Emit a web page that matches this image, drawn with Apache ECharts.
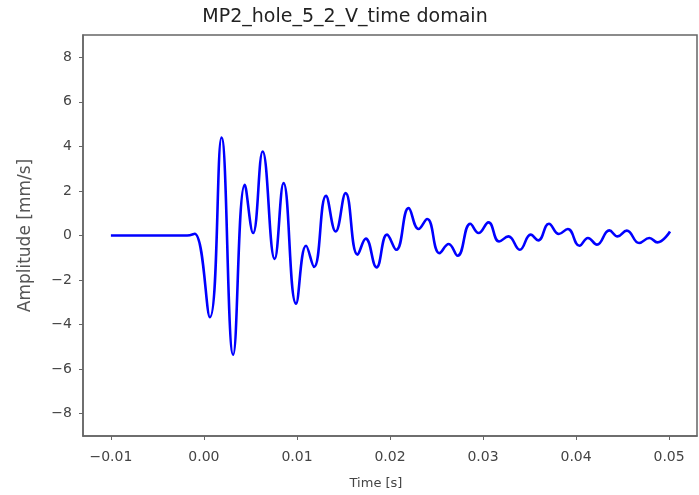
<!DOCTYPE html>
<html><head><meta charset="utf-8">
<script src="https://cdn.jsdelivr.net/npm/echarts@6/dist/echarts.min.js"></script>
<style>html,body{margin:0;padding:0;background:#fff}#c{width:699px;height:495px}</style>
</head><body><div id="c"></div>
<script>
const timeS = [-0.01, -0.005, -0.0018, -0.001, 0.00064, 0.00189, 0.00314, 0.00439, 0.00528, 0.00631, 0.0076, 0.00856, 0.0099, 0.01098, 0.01184, 0.01312, 0.01416, 0.01523, 0.01651, 0.0174, 0.01855, 0.01968, 0.02068, 0.0220, 0.02307, 0.0240, 0.02532, 0.02631, 0.02727, 0.02863, 0.02952, 0.03059, 0.03173, 0.03273, 0.03395, 0.03512, 0.03594, 0.03708, 0.03815, 0.03911, 0.04036, 0.04128, 0.04225, 0.04357, 0.04446, 0.04545, 0.04678, 0.04788, 0.04874, 0.0501];
const amplitude = [0, 0, 0.0, 0.08, -3.67, 4.40, -5.35, 2.28, 0.11, 3.77, -1.05, 2.35, -3.06, -0.46, -1.41, 1.78, 0.18, 1.90, -0.86, -0.14, -1.43, 0.04, -0.64, 1.23, 0.29, 0.74, -0.79, -0.38, -0.91, 0.53, 0.11, 0.59, -0.27, -0.04, -0.64, 0.04, -0.22, 0.53, 0.07, 0.29, -0.46, -0.11, -0.41, 0.23, -0.04, 0.22, -0.34, -0.11, -0.31, 0.18];
const xTicks = [-0.01, 0, 0.01, 0.02, 0.03, 0.04, 0.05];
const yTicks = [-8, -6, -4, -2, 0, 2, 4, 6, 8];
const titleText = 'MP2_hole_5_2_V_time domain';
const xName = 'Time [s]';
const yName = 'Amplitude [mm/s]';

const fnt = 'DejaVu Sans';
const minus = s => s.replace('-', '\u2212');
const chart = echarts.init(document.getElementById('c'));
chart.setOption({
  animation: false,
  title: {text: titleText, left: 340, top: 3, textAlign: 'center',
    textStyle: {fontFamily: fnt, fontSize: 19, fontWeight: 'normal', color: '#222'}},
  grid: {left: 83, top: 35, right: 2, bottom: 59, show: true, borderColor: '#666', borderWidth: 1.5, backgroundColor: '#fff'},
  xAxis: {type: 'value', min: -0.013, max: 0.053,
    name: xName, nameLocation: 'middle', nameGap: 41,
    nameTextStyle: {fontFamily: fnt, fontSize: 13, color: '#444', padding: [0, 28, 0, 0]},
    axisLine: {show: true, onZero: false, lineStyle: {color: '#666', width: 1.5}},
    axisTick: {show: true, length: 4, customValues: xTicks, lineStyle: {color: '#666'}},
    axisLabel: {customValues: xTicks, margin: 14, fontFamily: fnt, fontSize: 14, color: '#444',
      formatter: v => minus(v.toFixed(2))},
    splitLine: {show: false}},
  yAxis: {type: 'value', min: -9, max: 9,
    name: yName, nameLocation: 'middle', nameGap: 49, nameRotate: 90,
    nameTextStyle: {fontFamily: fnt, fontSize: 17, color: '#555'},
    axisLine: {show: true, onZero: false, lineStyle: {color: '#666', width: 1.5}},
    axisTick: {show: true, length: 4, customValues: yTicks, lineStyle: {color: '#666'}},
    axisLabel: {customValues: yTicks, margin: 11, fontFamily: fnt, fontSize: 14, color: '#444',
      formatter: v => minus(String(v))},
    splitLine: {show: false}},
  series: [{type: 'line', data: timeS.map((t, i) => [t, amplitude[i]]),
    showSymbol: false, smooth: 0.45, lineStyle: {color: '#0000ff', width: 2.6}}]
});
</script></body></html>
